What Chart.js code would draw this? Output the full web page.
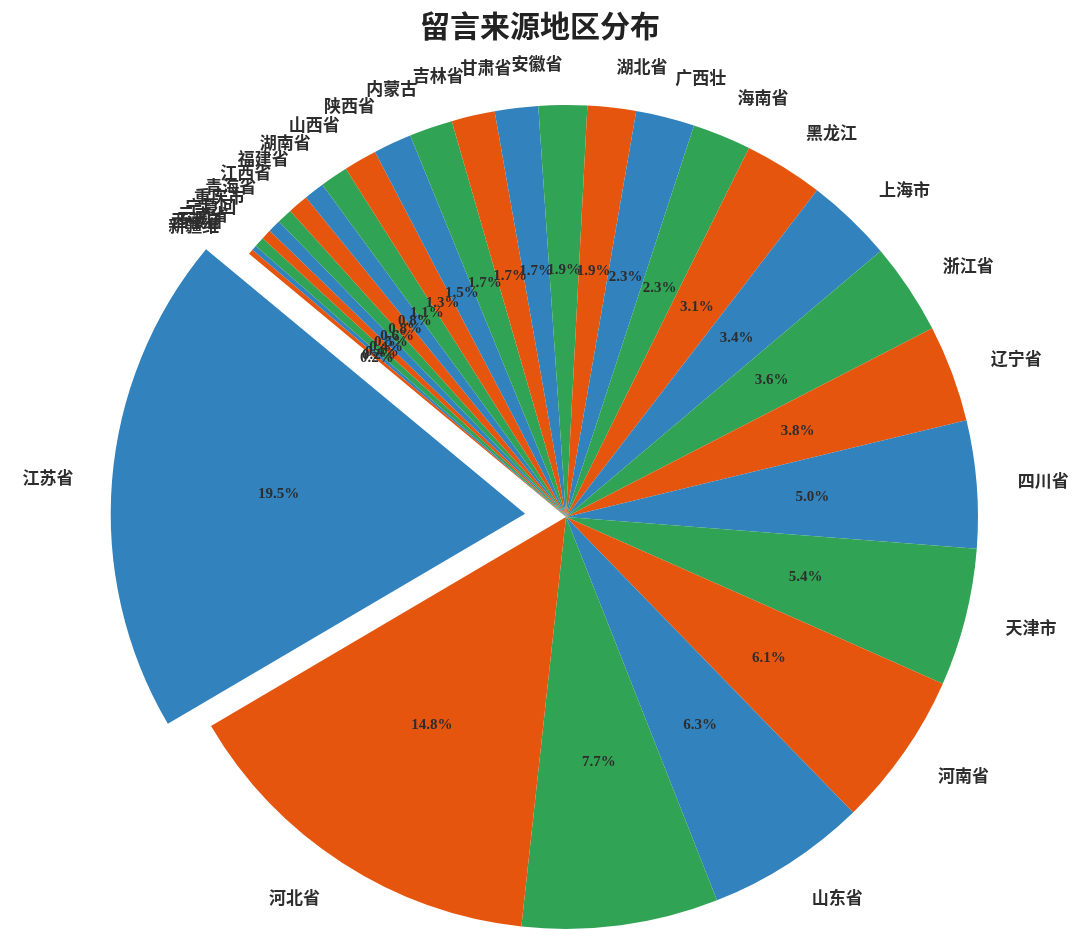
<!DOCTYPE html>
<html><head><meta charset="utf-8">
<script src="https://cdn.jsdelivr.net/npm/chart.js@4/dist/chart.umd.min.js"></script>
<style>html,body{margin:0;padding:0;background:#fff}#wrap{width:1080px;height:945px;position:relative}</style>
</head><body><div id="wrap"><canvas id="c"></canvas></div>
<script>
const chartTitle = '留言来源地区分布';
const regions = ['江苏省','河北省','北京市','山东省','河南省','天津市','四川省','辽宁省','浙江省','上海市','黑龙江','海南省','广西壮','湖北省','安徽省','甘肃省','吉林省','内蒙古','陕西省','山西省','湖南省','福建省','江西省','青海省','重庆市','宁夏回','云南省','西藏自','新疆维'];
const shares = [19.5,14.8,7.7,6.3,6.1,5.4,5.0,3.8,3.6,3.4,3.1,2.3,2.3,1.9,1.9,1.7,1.7,1.7,1.5,1.3,1.1,0.8,0.8,0.6,0.5,0.4,0.4,0.2,0.2];
const palette = ['#3182bd','#e6550d','#31a354'];
const explodedRegions = ['江苏省'];

// library wants clockwise order; the reference runs counter-clockwise
const idx = regions.map((_, i) => i).reverse();
const labels = idx.map(i => regions[i]);
const values = idx.map(i => shares[i]);
const colors = idx.map(i => palette[i % 3]);
const offsets = idx.map(i => explodedRegions.includes(regions[i]) ? 164 : 0);
const total = shares.reduce((a, b) => a + b, 0);

const textPlugin = {
  id: 'pieText',
  afterDatasetsDraw(chart) {
    const ctx = chart.ctx;
    const meta = chart.getDatasetMeta(0);
    ctx.save();
    ctx.fillStyle = '#2d2d2d';
    ctx.textBaseline = 'middle';
    meta.data.forEach((el, k) => {
      const p = el.getProps(['x', 'y', 'startAngle', 'endAngle', 'outerRadius'], true);
      const mid = (p.startAngle + p.endAngle) / 2;
      const off = (el.options.offset || 0) / 4;
      const cx = p.x + Math.cos(mid) * off, cy = p.y + Math.sin(mid) * off;
      const R = p.outerRadius;
      const c = Math.cos(mid), s = Math.sin(mid);
      ctx.font = 'bold 15px "Liberation Serif", "DejaVu Serif", serif';
      ctx.textAlign = 'center';
      ctx.fillText((values[k] / total * 100).toFixed(1) + '%', cx + c * 0.6 * R, cy + s * 0.6 * R);
      ctx.font = 'bold 17px "Noto Sans CJK SC", sans-serif';
      ctx.textAlign = c >= 0 ? 'left' : 'right';
      ctx.fillText(labels[k], cx + c * 1.1 * R, cy + s * 1.1 * R);
    });
    ctx.font = 'bold 30px "Noto Sans CJK SC", sans-serif';
    ctx.textAlign = 'center';
    ctx.fillStyle = '#222';
    ctx.fillText(chartTitle, 540, 26);
    ctx.restore();
  }
};

new Chart(document.getElementById('c'), {
  type: 'pie',
  data: {
    labels: labels,
    datasets: [{
      data: values,
      backgroundColor: colors,
      borderWidth: 0,
      offset: offsets,
      radius: 412
    }]
  },
  options: {
    responsive: true,
    maintainAspectRatio: false,
    animation: false,
    rotation: -50.3,
    layout: { padding: { left: 52, right: 0, top: 89, bottom: 0 } },
    plugins: { legend: { display: false }, tooltip: { enabled: false }, title: { display: false } },
    events: []
  },
  plugins: [textPlugin]
});
</script>
</body></html>
